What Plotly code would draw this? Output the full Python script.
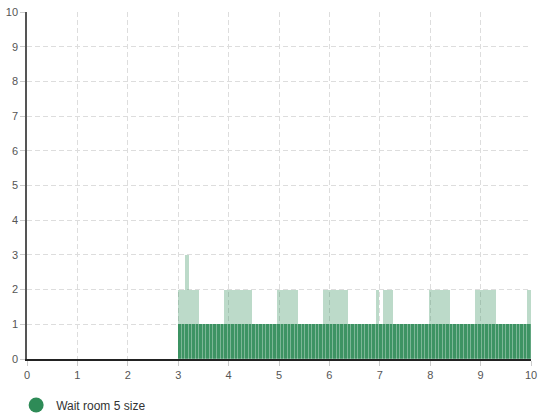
import numpy as np
import plotly.graph_objects as go

# Wait room 5 occupancy, sampled on a fixed time grid starting when the room opens
SAMPLE_START = 3.0
SAMPLE_STEP = 0.07
queue_size = [
    2, 2, 3, 2, 2, 2, 1, 1, 1, 1,
    1, 1, 1, 2, 2, 2, 2, 2, 2, 2,
    2, 1, 1, 1, 1, 1, 1, 1, 2, 2,
    2, 2, 2, 2, 1, 1, 1, 1, 1, 1,
    1, 2, 2, 2, 2, 2, 2, 2, 1, 1,
    1, 1, 1, 1, 1, 1, 2, 1, 2, 2,
    2, 1, 1, 1, 1, 1, 1, 1, 1, 1,
    1, 2, 2, 2, 2, 2, 2, 1, 1, 1,
    1, 1, 1, 1, 2, 2, 2, 2, 2, 2,
    1, 1, 1, 1, 1, 1, 1, 1, 1, 2,
]
series_name = "Wait room 5 size"
x_ticks = [0, 1, 2, 3, 4, 5, 6, 7, 8, 9, 10]
y_ticks = [0, 1, 2, 3, 4, 5, 6, 7, 8, 9, 10]

q = np.array(queue_size, dtype=float)
t = SAMPLE_START + SAMPLE_STEP * np.arange(len(q))
first_seat = np.minimum(q, 1)
extra = q - first_seat

GREEN = "46,139,87"
FONT = "Liberation Sans, Arial, sans-serif"

fig = go.Figure()
fig.add_trace(go.Bar(
    x=t, y=first_seat, width=SAMPLE_STEP, offset=0,
    marker=dict(color=f"rgba({GREEN},0.93)",
                line=dict(color="rgba(255,255,255,0.3)", width=0.6)),
    showlegend=False, hoverinfo="skip",
))
fig.add_trace(go.Bar(
    x=t, y=extra, width=SAMPLE_STEP, offset=0,
    marker=dict(color=f"rgba({GREEN},0.32)", line=dict(width=0)),
    showlegend=False, hoverinfo="skip",
))
# legend entry drawn as a filled circle
fig.add_trace(go.Scatter(
    x=[None], y=[None], mode="markers", name=series_name,
    marker=dict(size=15, color=f"rgb({GREEN})"),
))

axis_common = dict(
    showgrid=True, gridcolor="#dddddd", griddash="5px,3px", gridwidth=1,
    zeroline=False, showline=True, linewidth=1.5,
    ticks="outside", ticklen=5, tickcolor="#cccccc",
    tickfont=dict(family=FONT, size=11, color="#555555"),
    automargin=False,
)

fig.update_layout(
    width=538, height=418,
    margin=dict(l=27, r=7, t=12, b=59),
    paper_bgcolor="white", plot_bgcolor="white",
    barmode="stack", bargap=0,
    xaxis=dict(range=[0, 10], tickvals=x_ticks, linecolor="#222222", **axis_common),
    yaxis=dict(range=[0, 10], tickvals=y_ticks, linecolor="#555555", **axis_common),
    legend=dict(
        orientation="h", xref="container", yref="container",
        x=0.03, y=0.031, xanchor="left", yanchor="middle",
        font=dict(family=FONT, size=12, color="#333333"),
        bgcolor="rgba(0,0,0,0)",
    ),
    showlegend=True,
)

fig.write_html("out.html")
